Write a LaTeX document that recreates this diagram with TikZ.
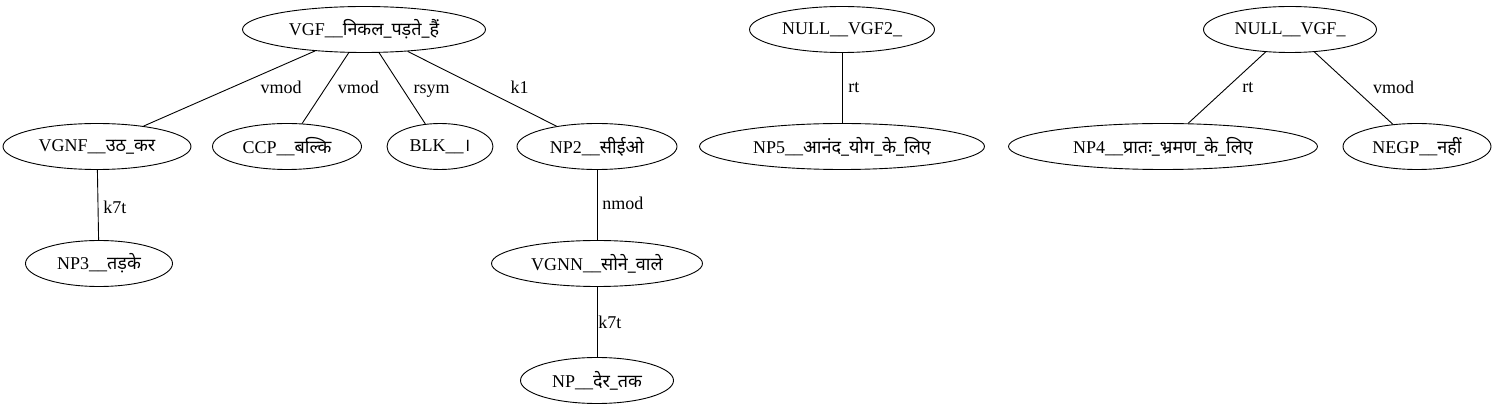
\documentclass[tikz,border=0pt]{standalone}
\usepackage{fontspec}
\setmainfont{Liberation Serif}
\newfontfamily\deva[Script=Devanagari,Scale=1.0]{Noto Sans}
\usepackage{tikz}
\usetikzlibrary{shapes.geometric,positioning}
\tikzset{
  tok/.style={ellipse, draw, inner xsep=-30pt, inner ysep=0pt, minimum height=46pt},
  lbl/.style={anchor=base west, inner sep=0pt, yshift=-5pt}
}

\begin{document}
\begin{tikzpicture}[x=1pt, y=-1pt, node distance=117pt, line width=0.9pt,
    font=\fontsize{18}{20}\selectfont]
        \useasboundingbox (0,0) rectangle (1496,411);
        \node[tok, minimum width=243pt] (vgf) at (364,29.5) {VGF\_\_{\deva निकल\_पड़ते\_हैं}}; %first tree
        \node[tok, minimum width=188pt] (vgnf) [below of=vgf, xshift=-267pt] {VGNF\_\_{\deva उठ\_कर}};
        \node[tok, minimum width=149pt] (ccp) [below of=vgf, xshift=-77pt] {CCP\_\_{\deva बल्कि}};
        \node[tok, minimum width=106pt] (blk) [below of=vgf, xshift=76pt] {BLK\_\_{\deva ।}};
        \node[tok, minimum width=160pt] (np2) [below of=vgf, xshift=233pt] {NP2\_\_{\deva सीईओ}};
        \node[tok, minimum width=147pt] (np3) [below of=vgnf, xshift=2pt] {NP3\_\_{\deva तड़के}};
        \node[tok, minimum width=211pt] (vgnn) [below of=np2] {VGNN\_\_{\deva सोने\_वाले}};
        \node[tok, minimum width=153pt] (np) [below of=vgnn] {NP\_\_{\deva देर\_तक}};

        \node[tok, minimum width=185pt] (nullb) at (842,29.5) {NULL\_\_VGF2\_}; %second tree
        \node[tok, minimum width=285pt] (np5) [below of=nullb] {NP5\_\_{\deva आनंद\_योग\_के\_लिए}};

        \node[tok, minimum width=173pt] (nulla) at (1290,29.5) {NULL\_\_VGF\_}; %third tree
        \node[tok, minimum width=309pt] (np4) [below of=nulla, xshift=-127pt] {NP4\_\_{\deva प्रातः\_भ्रमण\_के\_लिए}};
        \node[tok, minimum width=148pt] (negp) [below of=nulla, xshift=127pt] {NEGP\_\_{\deva नहीं}};

        \path
        (vgf) edge node[lbl, xshift=31pt] {vmod} (vgnf)
        (vgf) edge node[lbl, xshift=12pt] {vmod} (ccp)
        (vgf) edge node[lbl, xshift=11pt] {rsym} (blk)
        (vgf) edge node[lbl, xshift=28pt] {k1} (np2)
        (vgnf) edge node[lbl, xshift=5pt, yshift=-4pt] {k7t} (np3)
        (np2) edge node[lbl, xshift=5pt] {nmod} (vgnn)
        (vgnn) edge node[lbl, xshift=1pt, yshift=-2pt] {k7t} (np)
        (nullb) edge node[lbl, xshift=6pt] {rt} (np5)
        (nulla) edge node[lbl, xshift=15pt] {rt} (np4)
        (nulla) edge node[lbl, xshift=19pt] {vmod} (negp);
      \end{tikzpicture}
\end{document}
